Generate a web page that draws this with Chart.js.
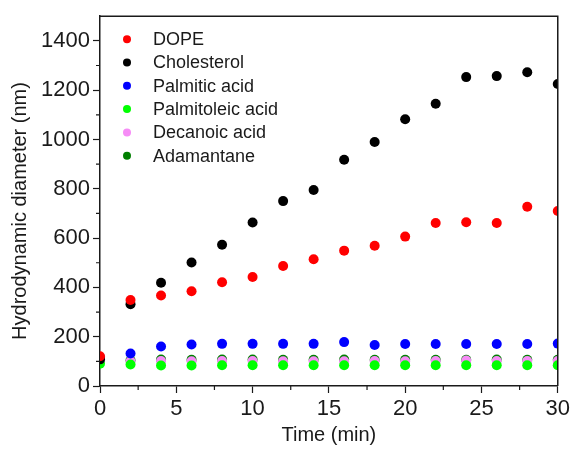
<!DOCTYPE html>
<html>
<head>
<meta charset="utf-8">
<script src="https://cdn.jsdelivr.net/npm/chart.js@4.4.0/dist/chart.umd.min.js"></script>
<style>
  html, body { margin: 0; padding: 0; background: #fff; }
  #wrap { width: 573px; height: 456px; }
</style>
</head>
<body>
<div id="wrap"><canvas id="sizeChart"></canvas></div>
<script>
// sampling times (min)
const times = [0, 2, 4, 6, 8, 10, 12, 14, 16, 18, 20, 22, 24, 26, 28, 30];

// hydrodynamic diameter (nm) per additive
const dope        = [121, 349, 367, 384, 421, 442, 487, 514, 549, 569, 606, 661, 664, 661, 727, 710];
const cholesterol = [108, 332, 419, 501, 573, 663, 750, 795, 918, 990, 1082, 1145, 1253, 1257, 1273, 1225];
const palmitic    = [115, 132, 160, 168, 171, 171, 171, 171, 178, 166, 170, 170, 170, 170, 170, 172];
const palmitoleic = [90, 87, 83, 83, 84, 84, 84, 84, 84, 84, 84, 84, 84, 84, 84, 84];
const decanoic    = [100, 100, 101, 100, 101, 101, 100, 100, 100, 101, 100, 101, 103, 101, 101, 101];
const adamantane  = [102, 104, 107, 106, 107, 107, 106, 106, 107, 106, 106, 106, 106, 107, 106, 106];

const seriesNames = ['DOPE', 'Cholesterol', 'Palmitic acid', 'Palmitoleic acid', 'Decanoic acid', 'Adamantane'];

const yMajor = [0, 200, 400, 600, 800, 1000, 1200, 1400];
const xMajor = [0, 5, 10, 15, 20, 25, 30];

const FONT = '"Liberation Sans", Arial, sans-serif';
const INK = '#1a1a1a';

function pts(vals) {
    return times.map((t, i) => ({ x: t, y: vals[i] }));
}

function series(name, vals, color) {
    return {
        label: name,
        data: pts(vals),
        backgroundColor: color,
        borderColor: color,
        borderWidth: 0,
        pointRadius: 5,
        pointHoverRadius: 5,
        clip: 0
    };
}

// frame, minor ticks, y title and the in-plot legend
const extras = {
    id: 'extras',
    afterDraw(chart) {
        const ctx = chart.ctx;
        const a = chart.chartArea;
        const xs = chart.scales.x, ys = chart.scales.y;
        ctx.save();
        ctx.strokeStyle = INK;
        ctx.lineWidth = 1.5;
        ctx.beginPath();
        ctx.moveTo(a.left, a.top);
        ctx.lineTo(a.right, a.top);
        ctx.lineTo(a.right, a.bottom);
        ctx.stroke();

        // minor ticks
        ctx.lineWidth = 1.2;
        ctx.beginPath();
        for (let v = 100; v < 1500; v += 200) {
            const py = ys.getPixelForValue(v);
            ctx.moveTo(a.left - 4, py);
            ctx.lineTo(a.left, py);
        }
        for (let v = 2.5; v < 30; v += 5) {
            const px = xs.getPixelForValue(v);
            ctx.moveTo(px, a.bottom);
            ctx.lineTo(px, a.bottom + 4);
        }
        ctx.stroke();

        // y axis title
        ctx.fillStyle = INK;
        ctx.font = '20px ' + FONT;
        ctx.textAlign = 'center';
        ctx.textBaseline = 'middle';
        ctx.translate(20, 211);
        ctx.rotate(-Math.PI / 2);
        ctx.fillText('Hydrodynamic diameter (nm)', 0, 0);
        ctx.restore();

        // legend
        ctx.save();
        ctx.font = '18px ' + FONT;
        ctx.textAlign = 'left';
        ctx.textBaseline = 'middle';
        chart.data.datasets.forEach((ds, i) => {
            const cy = a.top + 23 + i * 23.3;
            ctx.fillStyle = ds.backgroundColor;
            ctx.beginPath();
            ctx.arc(a.left + 27, cy, 4, 0, Math.PI * 2);
            ctx.fill();
            ctx.fillStyle = INK;
            ctx.fillText(ds.label, a.left + 53, cy + 1);
        });
        ctx.restore();
    }
};

const ctx = document.getElementById('sizeChart').getContext('2d');
const sizeChart = new Chart(ctx, {
    type: 'scatter',
    data: {
        datasets: [
            series(seriesNames[0], dope, '#ff0000'),
            series(seriesNames[1], cholesterol, '#000000'),
            series(seriesNames[2], palmitic, '#0000ff'),
            series(seriesNames[3], palmitoleic, '#00ff00'),
            series(seriesNames[4], decanoic, '#f68cf6'),
            series(seriesNames[5], adamantane, '#007f00')
        ]
    },
    options: {
        responsive: true,
        maintainAspectRatio: false,
        animation: false,
        layout: { padding: { left: 0, right: 13, top: 13, bottom: 0 } },
        plugins: {
            legend: { display: false },
            tooltip: { enabled: false }
        },
        scales: {
            x: {
                min: 0,
                max: 30,
                afterFit: (s) => { s.height = 70; },
                afterBuildTicks: (s) => { s.ticks = xMajor.map(v => ({ value: v })); },
                grid: { drawOnChartArea: false, tickLength: 7, tickColor: INK, tickWidth: 1.2 },
                border: { color: INK, width: 1.5 },
                ticks: { color: INK, padding: 3, font: { family: FONT, size: 22 }, callback: (v) => String(v) },
                title: {
                    display: true,
                    text: 'Time (min)',
                    color: INK,
                    font: { family: FONT, size: 20 },
                    padding: { top: 0, bottom: 9 }
                }
            },
            y: {
                min: 0,
                max: 1500,
                afterFit: (s) => { s.width = 100; },
                afterBuildTicks: (s) => { s.ticks = yMajor.map(v => ({ value: v })); },
                grid: { drawOnChartArea: false, tickLength: 7, tickColor: INK, tickWidth: 1.2 },
                border: { color: INK, width: 1.5 },
                ticks: { color: INK, padding: 3, font: { family: FONT, size: 22 }, callback: (v) => String(v) }
            }
        }
    },
    plugins: [extras]
});
</script>
</body>
</html>
